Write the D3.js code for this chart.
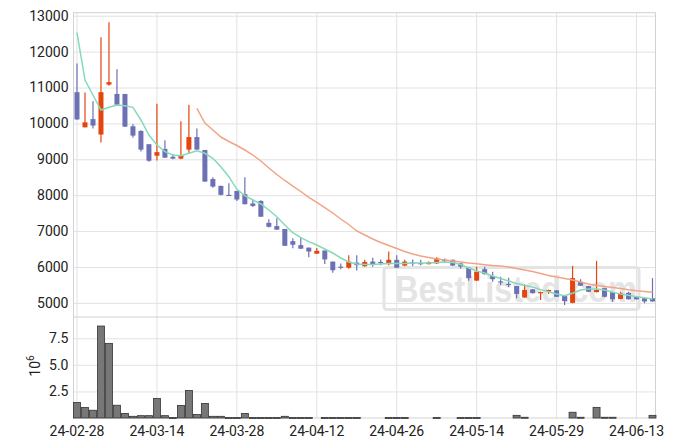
<!DOCTYPE html>
<html><head><meta charset="utf-8">
<script src="https://cdn.jsdelivr.net/npm/d3@7"></script>
<style>body{margin:0;background:#fff}svg{display:block}</style>
</head><body><svg id="c" width="675" height="447"></svg>
<script>
const dates = ["2024-02-28","2024-02-29","2024-03-04","2024-03-05","2024-03-06","2024-03-07","2024-03-08","2024-03-11","2024-03-12","2024-03-13",
"2024-03-14","2024-03-15","2024-03-18","2024-03-19","2024-03-20","2024-03-21","2024-03-22","2024-03-25","2024-03-26","2024-03-27",
"2024-03-28","2024-03-29","2024-04-01","2024-04-02","2024-04-03","2024-04-04","2024-04-05","2024-04-08","2024-04-09","2024-04-11",
"2024-04-12","2024-04-15","2024-04-16","2024-04-17","2024-04-18","2024-04-19","2024-04-22","2024-04-23","2024-04-24","2024-04-25",
"2024-04-26","2024-04-29","2024-04-30","2024-05-02","2024-05-03","2024-05-07","2024-05-08","2024-05-09","2024-05-10","2024-05-13",
"2024-05-14","2024-05-16","2024-05-17","2024-05-20","2024-05-21","2024-05-22","2024-05-23","2024-05-24","2024-05-27","2024-05-28",
"2024-05-29","2024-05-30","2024-05-31","2024-06-03","2024-06-04","2024-06-05","2024-06-07","2024-06-10","2024-06-11","2024-06-12",
"2024-06-13","2024-06-14","2024-06-17"];
const openP = [10870,9890,10120,9690,11080,10820,10820,9920,9790,9420,
9100,9290,9070,9020,9270,9620,9260,8450,8260,8010,
8120,8030,7770,7840,7230,7140,7060,6720,6610,6540,
6370,6460,6150,6010,5980,6120,6020,6150,6140,6080,
6200,6040,6130,6110,6080,6100,6200,6200,6100,5980,
5620,5940,5750,5600,5530,5470,5150,5380,5270,5310,
5350,5190,5000,5590,5470,5300,5410,5300,5110,5280,
5170,5130,5130];
const highP = [11670,10860,10620,12400,12820,11510,10820,9980,9810,9420,
10550,9530,9140,10060,10520,9860,9260,8500,8260,8330,
8120,8500,7880,7860,7330,7360,7060,6800,6820,6540,
6530,6460,6150,6100,6330,6330,6200,6260,6210,6430,
6330,6200,6210,6200,6150,6270,6240,6210,6110,5990,
6010,6010,5870,5730,5700,5470,5520,5390,5310,5370,
5360,5200,6030,5660,5480,6170,5420,5300,5310,5310,
5180,5130,5690];
const lowP = [10100,9890,9860,9470,11050,10520,9900,9600,9220,8930,
8970,9040,9000,9000,9150,9270,8370,8210,7990,7980,
7840,7740,7670,7400,7100,7030,6590,6520,6500,6270,
6370,6080,5840,5940,5950,5900,6010,6010,6050,6050,
5980,6020,6030,6050,6070,6080,6120,6030,5950,5620,
5610,5790,5590,5500,5440,5130,5140,5260,5080,5250,
5170,4940,4990,5470,5300,5290,5160,5030,5100,5090,
5090,4990,5030];
const closeP = [10110,10030,9940,10870,11150,10520,9910,9660,9270,8960,
9200,9045,9020,9110,9620,9270,8380,8240,8010,7990,
7880,7750,7700,7400,7120,7040,6590,6620,6510,6430,
6450,6210,5910,6000,6150,6050,6140,6080,6130,6200,
5980,6150,6120,6100,6130,6240,6160,6040,6010,5690,
5870,5800,5660,5590,5520,5250,5360,5270,5300,5360,
5170,5050,5690,5480,5310,5360,5170,5100,5270,5100,
5100,5040,5040];
// volume in millions (axis offset 10^6)
const volumeM = [1.45,0.98,0.73,8.65,7.02,1.2,0.42,0.16,0.22,0.22,
1.83,0.22,0.05,1.17,2.58,0.32,1.36,0.16,0.16,0.05,
0.05,0.42,0.05,0.05,0.05,0.05,0.16,0.05,0.05,0.05,
0,0.05,0.05,0.05,0.05,0.05,0,0,0,0.05,
0.05,0.05,0,0,0,0.05,0,0,0.05,0.05,
0.05,0,0,0,0,0.25,0.07,0,0,0,
0,0,0.54,0.07,0,1.0,0.07,0.07,0,0,
0,0,0.25];
const maShort = [12526,11209,10791,10373,10448,10513,10493,10448,10095,9677,
9398,9212,9120,9100,9167,9235,9167,9028,8794,8515,
8164,7986,7866,7755,7588,7401,7170,6955,6816,6705,
6613,6502,6390,6251,6140,6084,6070,6070,6084,6098,
6098,6098,6111,6111,6111,6125,6139,6125,6070,5972,
5889,5833,5749,5680,5610,5540,5485,5443,5370,5310,
5250,5200,5270,5360,5390,5390,5360,5300,5250,5210,
5170,5140,5110];
const maLong = [null,null,null,null,null,null,null,null,null,null,
null,null,null,null,null,10421,10011,9816,9621,9496,
9385,9259,9120,8953,8758,8577,8410,8256,8103,7940,
7800,7657,7504,7337,7184,7003,6891,6780,6683,6599,
6515,6432,6362,6306,6265,6223,6195,6167,6139,6111,
6089,6064,6042,6028,6000,5958,5916,5875,5819,5763,
5721,5680,5638,5582,5527,5485,5457,5429,5401,5365,
5337,5318,5296];
const priceTicks = [5000,6000,7000,8000,9000,10000,11000,12000,13000];
const volumeTicks = [2.5,5.0,7.5];
const xTickDates = ["2024-02-28","2024-03-14","2024-03-28","2024-04-12","2024-04-26","2024-05-14","2024-05-29","2024-06-13"];

const svg = d3.select("#c");
const L = 73.5, R = 655.5, T = 12.7, MID = 317, B = 418;
const FONT = "Roboto, 'Liberation Sans', sans-serif";
const x = d3.scaleBand().domain(dates).range([73, 656.5]).padding(0);
const cx = d => x(d) + x.bandwidth()/2;
const yP = d3.scaleLinear().domain([4607, 13084]).range([MID, T]);
const yV = d3.scaleLinear().domain([0, 9.5]).range([B, MID]);

// grids + axes
const gx = svg.append("g").attr("transform", `translate(0,${B})`)
  .call(d3.axisBottom(x).tickValues(xTickDates).tickSize(-(B-T)).tickPadding(8)
    .tickFormat(d => d.slice(2)));
const gp = svg.append("g").attr("transform", `translate(${L},0)`)
  .call(d3.axisLeft(yP).tickValues(priceTicks).tickSize(-(R-L)).tickPadding(5).tickFormat(d3.format("d")));
const gv = svg.append("g").attr("transform", `translate(${L},0)`)
  .call(d3.axisLeft(yV).tickValues(volumeTicks).tickSize(-(R-L)).tickPadding(5).tickFormat(d3.format(".1f")));
[gx,gp,gv].forEach(g => {
  g.select(".domain").remove();
  g.selectAll(".tick line").attr("stroke","#e2e2e2").attr("stroke-width",1);
  g.selectAll("text").attr("fill","#222").style("font-family",FONT).style("font-size","14px");
});

// frame
svg.append("rect").attr("x",L).attr("y",T).attr("width",R-L).attr("height",B-T)
  .attr("fill","none").attr("stroke","#d2d2d2");
svg.append("line").attr("x1",L).attr("x2",R).attr("y1",MID).attr("y2",MID).attr("stroke","#d2d2d2");

// volume axis label 10^6
const vl = svg.append("text").attr("transform","translate(40,366) rotate(-90)")
  .attr("text-anchor","middle").attr("fill","#222").style("font-family",FONT).style("font-size","14px");
vl.append("tspan").text("10");
vl.append("tspan").attr("dy","-6").style("font-size","10px").text("6");

// watermark
const wm = svg.append("g");
wm.append("rect").attr("x",384).attr("y",267.5).attr("width",255).attr("height",42).attr("rx",3)
  .attr("fill","none").attr("stroke","#e4e4e4").attr("stroke-width",3);
wm.append("text").attr("x",395).attr("y",302).attr("textLength",242).attr("lengthAdjust","spacingAndGlyphs")
  .attr("fill","#e4e4e4").style("font-family","'Liberation Sans', Arial, sans-serif").style("font-weight","bold")
  .style("font-size","37px").text("BestListed.com");

// volume bars
svg.append("g").selectAll("rect").data(dates.map((d,i)=>({d,v:volumeM[i]})).filter(o=>o.v>0))
  .join("rect").attr("x",o=>x(o.d)+0.5).attr("width",x.bandwidth()-1)
  .attr("y",o=>yV(o.v)).attr("height",o=>Math.max(1,yV(0)-yV(o.v)))
  .attr("fill","#777").attr("stroke","#333").attr("stroke-width",0.8);

// candles
const up = "#e4450f", down = "#6c71b5";
const cd = dates.map((d,i)=>({d,o:openP[i],h:highP[i],l:lowP[i],c:closeP[i]}));
const cg = svg.append("g");
cg.selectAll("line").data(cd).join("line")
  .attr("x1",o=>cx(o.d)).attr("x2",o=>cx(o.d)).attr("y1",o=>yP(o.h)).attr("y2",o=>yP(o.l))
  .attr("stroke",o=>o.c>o.o?up:down).attr("stroke-width",1.2);
cg.selectAll("rect").data(cd).join("rect")
  .attr("x",o=>cx(o.d)-2.5).attr("width",5)
  .attr("y",o=>yP(Math.max(o.o,o.c))).attr("height",o=>Math.max(1.2,Math.abs(yP(o.o)-yP(o.c))))
  .attr("fill",o=>o.c>o.o?up:down);

// moving averages
const line = d3.line().defined(p=>p.v!=null).x(p=>cx(p.d)).y(p=>yP(p.v));
svg.append("path").datum(dates.map((d,i)=>({d,v:maShort[i]})))
  .attr("d",line).attr("fill","none").attr("stroke","#86d9b9").attr("stroke-width",1.5);
svg.append("path").datum(dates.map((d,i)=>({d,v:maLong[i]})))
  .attr("d",line).attr("fill","none").attr("stroke","#f2a487").attr("stroke-width",1.5);
</script></body></html>
